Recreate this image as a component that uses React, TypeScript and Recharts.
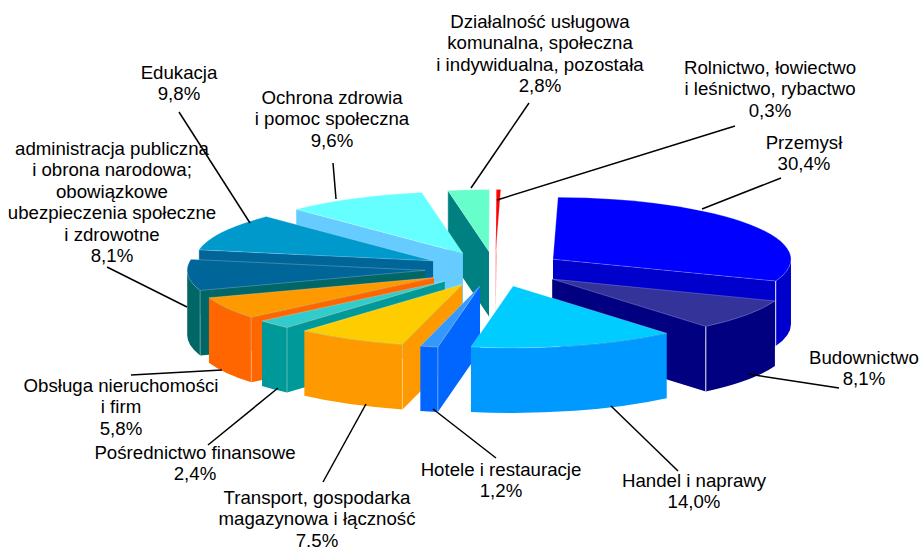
import React from 'react';
import { PieChart, Pie } from 'recharts';

const categories = [
  'Przemysł', 'Budownictwo', 'Handel i naprawy', 'Hotele i restauracje',
  'Transport, gospodarka magazynowa i łączność', 'Pośrednictwo finansowe',
  'Obsługa nieruchomości i firm',
  'administracja publiczna i obrona narodowa; obowiązkowe ubezpieczenia społeczne i zdrowotne',
  'Edukacja', 'Ochrona zdrowia i pomoc społeczna',
  'Działalność usługowa komunalna, społeczna i indywidualna, pozostała',
  'Rolnictwo, łowiectwo i leśnictwo, rybactwo',
];
const shares = [30.4, 8.1, 14.0, 1.2, 7.5, 2.4, 5.8, 8.1, 9.8, 9.6, 2.8, 0.3];
const shareLabels = ['30,4%', '8,1%', '14,0%', '1,2%', '7.5%', '2,4%', '5,8%', '8,1%', '9,8%', '9,6%', '2,8%', '0,3%'];

const topColors = ['#0000ff', '#333399', '#00ccff', '#3399ff', '#ffcc00', '#33cccc', '#ff9900', '#006699', '#0099cc', '#66ffff', '#66ffcc', '#ff0000'];
const wallColors = ['#0000cc', '#000080', '#0099ff', '#0066ff', '#ff9900', '#009999', '#ff6600', '#006666', '#006699', '#66ccff', '#008080', '#ff0000'];

// painter's order, back slices first
const drawOrder = [11, 10, 9, 0, 8, 7, 1, 6, 5, 4, 3, 2];

// label text broken in lines: [centre x, first baseline, lines]
const labelLines: [number, number, string[]][] = [
  [804, 149, ['Przemysł']],
  [864, 364, ['Budownictwo']],
  [694, 487, ['Handel i naprawy']],
  [501, 476, ['Hotele i restauracje']],
  [317, 504, ['Transport, gospodarka', 'magazynowa i łączność']],
  [195, 459, ['Pośrednictwo finansowe']],
  [121, 392, ['Obsługa nieruchomości', 'i firm']],
  [112, 155, ['administracja publiczna', 'i obrona narodowa;', 'obowiązkowe', 'ubezpieczenia społeczne', 'i zdrowotne']],
  [179, 79, ['Edukacja']],
  [332, 104, ['Ochrona zdrowia', 'i pomoc społeczna']],
  [540, 28, ['Działalność usługowa', 'komunalna, społeczna', 'i indywidualna, pozostała']],
  [770, 74, ['Rolnictwo, łowiectwo', 'i leśnictwo, rybactwo']],
];

const leaders = [
  [702, 209, 781, 178], [748, 374, 839, 388], [611, 406, 678, 471], [433, 409, 496, 458],
  [366, 404, 323, 482], [278, 388, 208, 445], [222, 370, 131, 375], [187, 307, 107, 267],
  [250, 223, 179, 112], [336, 199, 333, 163], [471, 188, 529, 103], [497, 200, 735, 126],
];

const tableData = categories.map((name, i) => ({ name, value: shares[i] }));

const WIDTH = 921;
const HEIGHT = 548;
const CX = 495;
const CY = 269;
const RADIUS = 238;
const SQUASH = 62 / 238;
const DEPTH = 65;
const EXPLODE_X = 70;
const EXPLODE_Y = 17.5;
const LINE_HEIGHT = 21.4;
const START_ANGLE = 88.8;

const rad = (d: number) => (d * Math.PI) / 180;

const Slice3D = (props: any) => {
  const { cx, cy, outerRadius, startAngle, endAngle, index } = props;
  // clockwise degrees from the top of the pie
  const a0 = 90 - startAngle;
  const a1 = 90 - endAngle;
  const mid = (a0 + a1) / 2;
  const ox = cx + EXPLODE_X * Math.sin(rad(mid));
  const oy = cy - EXPLODE_Y * Math.cos(rad(mid));
  const rx = outerRadius;
  const ry = outerRadius * SQUASH;
  const pt = (a: number, dy = 0) => `${ox + rx * Math.sin(rad(a))} ${oy - ry * Math.cos(rad(a)) + dy}`;
  const arc = (sweep: number, large = false) => `A ${rx} ${ry} 0 ${large ? 1 : 0} ${sweep} `;

  const top = `M ${ox} ${oy} L ${pt(a0)} ${arc(1, a1 - a0 > 180)}${pt(a1)} Z`;
  const wall = wallColors[index];
  const parts: React.ReactNode[] = [];

  if (a0 > 180) {
    parts.push(<path key="start" d={`M ${ox} ${oy} L ${pt(a0)} L ${pt(a0, DEPTH)} L ${ox} ${oy + DEPTH} Z`} fill={wall} />);
  }
  if (a1 < 180) {
    parts.push(<path key="end" d={`M ${ox} ${oy} L ${pt(a1)} L ${pt(a1, DEPTH)} L ${ox} ${oy + DEPTH} Z`} fill={wall} />);
  }
  const w0 = Math.max(a0, 90);
  const w1 = Math.min(a1, 270);
  if (w1 > w0) {
    parts.push(
      <path
        key="outer"
        d={`M ${pt(w0)} ${arc(1)}${pt(w1)} L ${pt(w1, DEPTH)} ${arc(0)}${pt(w0, DEPTH)} Z`}
        fill={wall}
      />
    );
  }
  // light seam where the walls meet
  if (a0 > 180) {
    parts.push(<path key="seam0" d={`M ${pt(a0)} L ${pt(a0, DEPTH)}`} stroke="#ffffff" strokeOpacity={0.35} fill="none" />);
  }
  if (a1 < 180) {
    parts.push(<path key="seam1" d={`M ${pt(a1)} L ${pt(a1, DEPTH)}`} stroke="#ffffff" strokeOpacity={0.9} fill="none" />);
  }
  return (
    <g>
      {parts}
      <path d={top} fill={topColors[index]} stroke="#ffffff" strokeOpacity={0.3} strokeWidth={0.75} />
    </g>
  );
};

const renderLabel = (props: any) => {
  const [x, y, lines] = labelLines[props.index];
  return (
    <text key={props.index} x={x} y={y} textAnchor="middle" fontFamily="Liberation Sans" fontSize={18.67} fill="#000000">
      {[...lines, shareLabels[props.index]].map((line, i) => (
        <tspan key={i} x={x} y={y + i * LINE_HEIGHT}>{line}</tspan>
      ))}
    </text>
  );
};

export default function App() {
  return (
    <div style={{ position: 'absolute', left: 0, top: 0, width: WIDTH, height: HEIGHT }}>
      <PieChart width={WIDTH} height={HEIGHT} margin={{ top: 0, right: 0, bottom: 0, left: 0 }}>
        {drawOrder.map((slice) => (
          <Pie
            key={slice}
            data={tableData}
            dataKey="value"
            nameKey="name"
            cx={CX}
            cy={CY}
            innerRadius={0}
            outerRadius={RADIUS}
            startAngle={START_ANGLE}
            endAngle={START_ANGLE - 360}
            stroke="none"
            isAnimationActive={false}
            shape={(p: any) => (p.index === slice ? <Slice3D {...p} /> : <g />)}
          />
        ))}
        <Pie
          data={tableData}
          dataKey="value"
          cx={CX}
          cy={CY}
          outerRadius={RADIUS}
          startAngle={START_ANGLE}
          endAngle={START_ANGLE - 360}
          isAnimationActive={false}
          shape={() => <g />}
          label={renderLabel}
          labelLine={false}
        />
      </PieChart>
      <svg width={WIDTH} height={HEIGHT} style={{ position: 'absolute', left: 0, top: 0, pointerEvents: 'none' }}>
        {leaders.map(([x1, y1, x2, y2], i) => (
          <line key={i} x1={x1} y1={y1} x2={x2} y2={y2} stroke="#000000" strokeWidth={1.5} />
        ))}
      </svg>
    </div>
  );
}
